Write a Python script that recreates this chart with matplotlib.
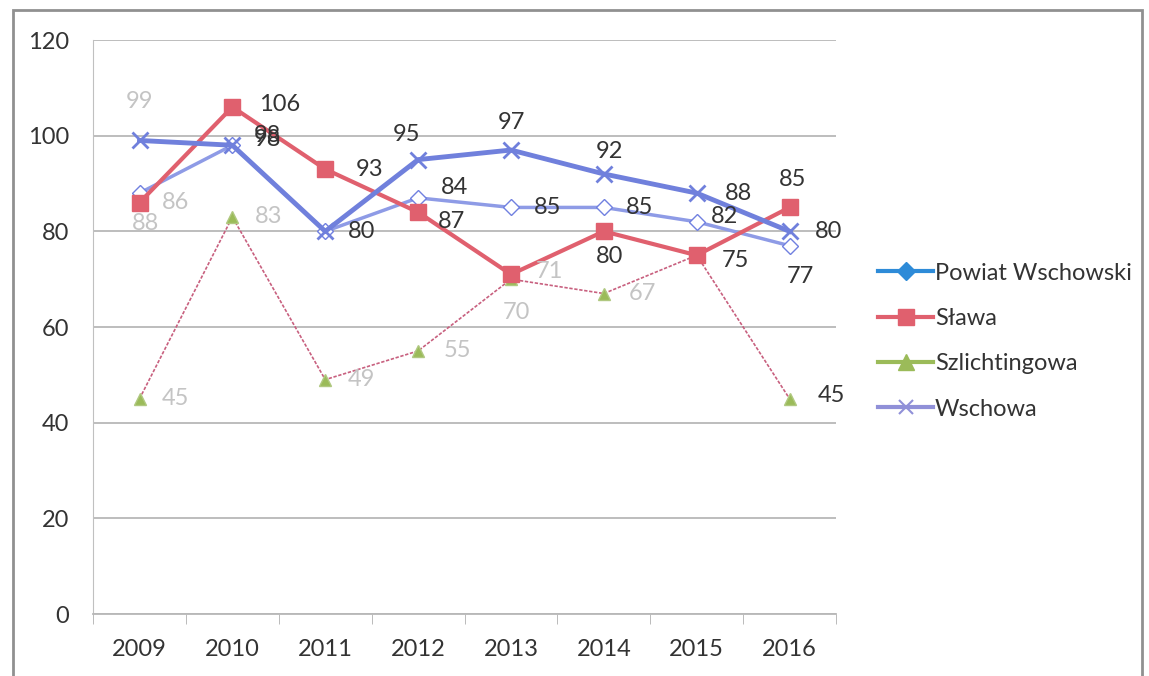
import matplotlib.pyplot as plt
from matplotlib.patches import Rectangle

plt.rcParams['font.family'] = ['Lato', 'DejaVu Sans']

years = ['2009', '2010', '2011', '2012', '2013', '2014', '2015', '2016']
powiat = [88, 98, 80, 87, 85, 85, 82, 77]
slawa = [86, 106, 93, 84, 71, 80, 75, 85]
szlichtingowa = [45, 83, 49, 55, 70, 67, 75, 45]
wschowa = [99, 98, 80, 95, 97, 92, 88, 80]

# label placement per series: (dx points, dy points, faint?)
powiat_lbl = [(4, -22, True), (25, 7, False), (0, 0, None), (24, -17, False),
              (26, 0, False), (26, 0, False), (20, 4, False), (8, -22, False)]
slawa_lbl = [(26, 0, True), (34, 2, False), (32, 0, False), (26, 18, False),
             (28, 2, True), (4, -18, False), (28, -4, False), (2, 20, False)]
szl_lbl = [(26, 0, True), (26, 0, True), (26, 0, True), (28, 0, True),
           (4, -24, True), (28, 0, True), (0, 0, None), (30, 2, False)]
wsch_lbl = [(0, 28, True), (25, 4, False), (26, 0, False), (-8, 18, False),
            (0, 20, False), (4, 16, False), (30, 0, False), (28, 0, False)]

dark = '#333333'
faint = '#c4c4c4'

fig = plt.figure(figsize=(11.49, 6.76), dpi=100)
ax = fig.add_axes([0.081, 0.0917, 0.6466, 0.8491])
x = list(range(len(years)))

ax.plot(x, szlichtingowa, color='#c8607f', lw=1.2, ls=(0, (2, 1)),
        marker='^', ms=9, mfc='#9bbb59', mec='#b0c880', zorder=3)
ax.plot(x, powiat, color='#8e9be6', lw=2.5, marker='D', ms=8,
        mfc='white', mec='#7080e0', zorder=4)
ax.plot(x, slawa, color='#e0606e', lw=3, marker='s', ms=12,
        mfc='#e0606e', mec='#e0606e', zorder=5)
ax.plot(x, wschowa, color='#7080dc', lw=3.5, marker='x', ms=12,
        mew=2, zorder=6)

for vals, lbls in [(powiat, powiat_lbl), (slawa, slawa_lbl),
                   (szlichtingowa, szl_lbl), (wschowa, wsch_lbl)]:
    for i, (v, (dx, dy, f)) in enumerate(zip(vals, lbls)):
        if f is None:
            continue
        ax.annotate(str(v), (i, v), xytext=(dx, dy), textcoords='offset points',
                    ha='center', va='center', fontsize=17,
                    color=faint if f else dark, zorder=7)

ax.set_xlim(-0.5, 7.5)
ax.set_ylim(0, 120)
ax.set_yticks(range(0, 121, 20))
ax.set_xticks(x)
ax.set_xticklabels(years)
ax.set_xticks([i - 0.5 for i in range(9)], minor=True)
ax.tick_params(axis='x', which='major', length=0, pad=18, labelsize=17, labelcolor=dark)
ax.tick_params(axis='x', which='minor', length=7, color='#b0b0b0', direction='out')
ax.tick_params(axis='y', length=0, pad=17, labelsize=17, labelcolor=dark)
ax.grid(axis='y', color='#b8b8b8', lw=1.3)
ax.set_axisbelow(True)
for s in ['top', 'right']:
    ax.spines[s].set_visible(False)
ax.spines['left'].set_color('#c0c0c0')
ax.spines['bottom'].set_color('#b8b8b8')
ax.spines['bottom'].set_linewidth(1.3)

leg = fig.legend(handles=[
    plt.Line2D([], [], color='#2e8bd8', lw=3, marker='D', ms=9),
    plt.Line2D([], [], color='#e0606e', lw=3, marker='s', ms=11),
    plt.Line2D([], [], color='#9bbb59', lw=3, marker='^', ms=11),
    plt.Line2D([], [], color='#9090d8', lw=3, marker='x', ms=10, mew=1.5)],
    labels=['Powiat Wschowski', 'Sława', 'Szlichtingowa', 'Wschowa'],
    loc='upper left', bbox_to_anchor=(0.746, 0.643), frameon=False,
    fontsize=17, labelcolor=dark,
    handlelength=2.3, handletextpad=0.1, labelspacing=1.03)

fig.patches.append(Rectangle((0.011, -0.02), 0.983, 1.005, transform=fig.transFigure,
                             fill=False, edgecolor='#909090', lw=2))

fig.savefig('out.png', dpi=100)
